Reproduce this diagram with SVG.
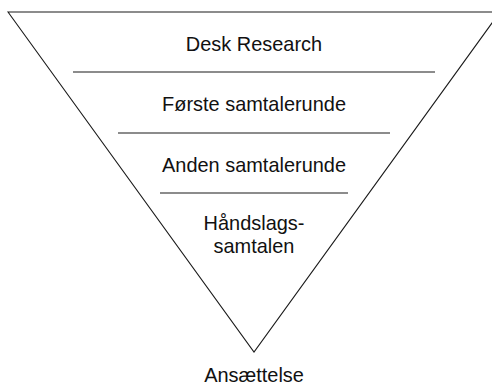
<svg xmlns="http://www.w3.org/2000/svg" width="492" height="387" viewBox="0 0 492 387">
  <style>
    .edge { fill: none; stroke: #1a1a1a; stroke-width: 1.1; }
    .lbl { font-family: "Liberation Sans", Arial, sans-serif; font-size: 21px; fill: #111; text-anchor: middle; }
  </style>
  <rect width="492" height="387" fill="#ffffff"/>
  <g id="funnel">
    <polygon class="edge" points="8,12 254,352 500,12"/>
  </g>
  <g id="connectors">
    <line class="edge" x1="73" y1="72" x2="435" y2="72"/>
    <line class="edge" x1="118" y1="133" x2="390" y2="133"/>
    <line class="edge" x1="160" y1="193" x2="348" y2="193"/>
  </g>
  <g id="desk-research" transform="translate(254,51) scale(0.95,1)">
    <text class="lbl" x="0" y="0">Desk Research</text>
  </g>
  <g id="forste-samtalerunde" transform="translate(254,111) scale(0.95,1)">
    <text class="lbl" x="0" y="0">Første samtalerunde</text>
  </g>
  <g id="anden-samtalerunde" transform="translate(254,172) scale(0.95,1)">
    <text class="lbl" x="0" y="0">Anden samtalerunde</text>
  </g>
  <g id="handslagssamtalen" transform="translate(254,230) scale(0.95,1)">
    <text class="lbl" x="0" y="0">Håndslags-</text>
    <text class="lbl" x="0" y="23.5">samtalen</text>
  </g>
  <g id="ansaettelse" transform="translate(254,382) scale(0.95,1)">
    <text class="lbl" x="0" y="0">Ansættelse</text>
  </g>
</svg>
